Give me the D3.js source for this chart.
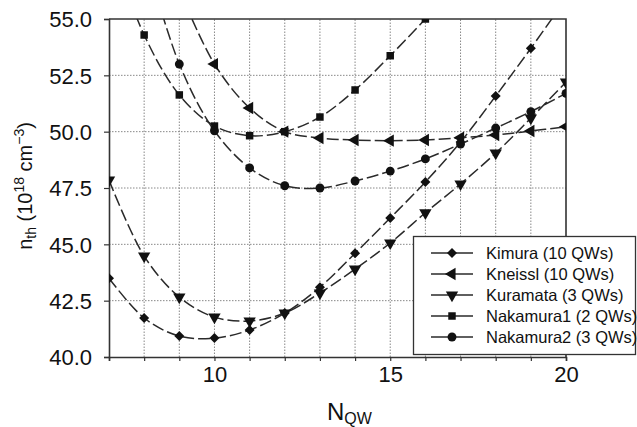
<!DOCTYPE html>
<html>
<head>
<meta charset="utf-8">
<script src="https://cdn.jsdelivr.net/npm/d3@7"></script>
<style>
  body { margin: 0; background: #fff; }
  text { font-family: "Liberation Sans", Arial, Helvetica, sans-serif; fill: #111; }
</style>
</head>
<body>
<div id="chart"></div>
<script>
// N_QW values and threshold densities
const nQW = [7, 8, 9, 10, 11, 12, 13, 14, 15, 16, 17, 18, 19, 20];

const kimura    = [43.5, 41.73, 40.93, 40.84, 41.2, 41.95, 43.1, 44.6, 46.17, 47.77, 49.54, 51.58, 53.7, 55.9];
const kneissl   = [null, null, 56.3, 53.0, 51.05, 50.0, 49.72, 49.63, 49.6, 49.63, 49.73, 49.85, 50.03, 50.22];
const kuramata  = [47.85, 44.48, 42.66, 41.77, 41.6, 41.95, 42.84, 43.9, 45.06, 46.4, 47.68, 49.05, 50.6, 52.2];
const nakamura1 = [58.5, 54.29, 51.63, 50.25, 49.82, 50.0, 50.65, 51.85, 53.37, 55.0, null, null, null, null];
const nakamura2 = [null, 58.0, 53.0, 50.04, 48.39, 47.6, 47.5, 47.81, 48.25, 48.79, 49.45, 50.16, 50.89, 51.7];

const seriesNames = ["Kimura (10 QWs)", "Kneissl (10 QWs)", "Kuramata (3 QWs)", "Nakamura1 (2 QWs)", "Nakamura2 (3 QWs)"];
const seriesValues = [kimura, kneissl, kuramata, nakamura1, nakamura2];

const yTicks = [40.0, 42.5, 45.0, 47.5, 50.0, 52.5, 55.0];
const xTicks = [10, 15, 20];

const width = 637, height = 427;
const margin = { top: 19, right: 71, bottom: 70, left: 109 };

const svg = d3.select("#chart").append("svg")
    .attr("width", width)
    .attr("height", height);

const x = d3.scaleLinear().domain([7, 20]).range([margin.left, width - margin.right]);
const y = d3.scaleLinear().domain([40, 55]).range([height - margin.bottom, margin.top]);

// clip to the plot box
svg.append("clipPath").attr("id", "plot-clip")
  .append("rect")
    .attr("x", margin.left)
    .attr("y", margin.top)
    .attr("width", x(20) - margin.left)
    .attr("height", y(40) - margin.top);

// dotted grid
svg.append("g")
  .selectAll("line")
  .data(nQW.slice(1, -1))
  .enter().append("line")
    .attr("x1", d => x(d)).attr("x2", d => x(d))
    .attr("y1", y(40)).attr("y2", y(55))
    .attr("stroke", "#888")
    .attr("stroke-width", 1)
    .attr("stroke-dasharray", "1.5,1.5");

svg.append("g")
  .selectAll("line")
  .data(yTicks.slice(1, -1))
  .enter().append("line")
    .attr("x1", x(7)).attr("x2", x(20))
    .attr("y1", d => y(d)).attr("y2", d => y(d))
    .attr("stroke", "#888")
    .attr("stroke-width", 1)
    .attr("stroke-dasharray", "1.5,1.5");

// axes
const xAxis = svg.append("g")
    .attr("transform", "translate(0," + y(40) + ")")
    .call(d3.axisBottom(x).tickValues(nQW).tickSize(4).tickPadding(17)
        .tickFormat(d => xTicks.includes(d) ? d : ""));

const yAxis = svg.append("g")
    .attr("transform", "translate(" + x(7) + ",0)")
    .call(d3.axisLeft(y).tickValues(yTicks).tickSize(5).tickPadding(12)
        .tickFormat(d3.format(".1f")));

[xAxis, yAxis].forEach(ax => {
    ax.select(".domain").attr("stroke", "#333").attr("stroke-width", 1.6);
    ax.selectAll(".tick line").attr("stroke", "#333").attr("stroke-width", 1.2);
    ax.selectAll(".tick text")
        .attr("font-family", "'Liberation Sans', Arial, sans-serif")
        .attr("font-size", 22)
        .attr("fill", "#111");
});
xAxis.selectAll(".tick text").attr("dy", "0.2em");
yAxis.selectAll(".tick text").attr("dy", "0.36em");

// top and right frame
svg.append("path")
    .attr("d", "M" + x(7) + "," + y(55) + "H" + x(20) + "V" + y(40))
    .attr("fill", "none")
    .attr("stroke", "#333")
    .attr("stroke-width", 1.6);

// marker shapes
const symbols = [
    d3.symbol().type(d3.symbolSquare).size(50),
    d3.symbol().type(d3.symbolTriangle).size(66),
    d3.symbol().type(d3.symbolTriangle).size(66),
    d3.symbol().type(d3.symbolSquare).size(56),
    d3.symbol().type(d3.symbolCircle).size(62)
];
const rotations = [45, -90, 180, 0, 0];

const line = d3.line()
    .defined(d => d.v !== null)
    .x(d => x(d.n))
    .y(d => y(d.v))
    .curve(d3.curveCatmullRom);

const plot = svg.append("g").attr("clip-path", "url(#plot-clip)");

seriesValues.forEach((vals, i) => {
    const pts = nQW.map((n, j) => ({ n: n, v: vals[j] }));
    plot.append("path")
        .datum(pts)
        .attr("d", line)
        .attr("fill", "none")
        .attr("stroke", "#2a2a2a")
        .attr("stroke-width", 1.5)
        .attr("stroke-dasharray", "12,4");

    plot.selectAll(".m" + i)
        .data(pts.filter(d => d.v !== null))
        .enter().append("path")
        .attr("class", "m" + i)
        .attr("d", symbols[i])
        .attr("transform", d => "translate(" + x(d.n) + "," + y(d.v) + ") rotate(" + rotations[i] + ")")
        .attr("fill", "#111");
});

// legend
const legend = svg.append("g");
legend.append("rect")
    .attr("x", 413.5).attr("y", 236.5)
    .attr("width", 222).attr("height", 118)
    .attr("fill", "#fff")
    .attr("stroke", "#333")
    .attr("stroke-width", 1.3);

seriesNames.forEach((name, i) => {
    const ly = 253 + i * 21;
    legend.append("line")
        .attr("x1", 431).attr("x2", 473)
        .attr("y1", ly).attr("y2", ly)
        .attr("stroke", "#2a2a2a")
        .attr("stroke-width", 1.4);
    legend.append("path")
        .attr("d", symbols[i])
        .attr("transform", "translate(452," + ly + ") rotate(" + rotations[i] + ")")
        .attr("fill", "#111");
    legend.append("text")
        .attr("x", 486)
        .attr("y", ly + 6)
        .attr("font-size", 16.5)
        .text(name);
});

// axis titles
const xt = svg.append("text")
    .attr("x", 327)
    .attr("y", 420)
    .attr("font-size", 24);
xt.append("tspan").text("N");
xt.append("tspan").attr("font-size", 16).attr("dy", 4).text("QW");

const yt = svg.append("text")
    .attr("transform", "translate(32,186) rotate(-90)")
    .attr("text-anchor", "middle")
    .attr("font-size", 20);
yt.append("tspan").text("n");
yt.append("tspan").attr("font-size", 14).attr("dy", 4).text("th");
yt.append("tspan").attr("dy", -4).text(" (10");
yt.append("tspan").attr("font-size", 14).attr("dy", -8).text("18");
yt.append("tspan").attr("dy", 8).text(" cm");
yt.append("tspan").attr("font-size", 14).attr("dy", -8).text("\u22123");
yt.append("tspan").attr("dy", 8).text(")");
</script>
</body>
</html>
